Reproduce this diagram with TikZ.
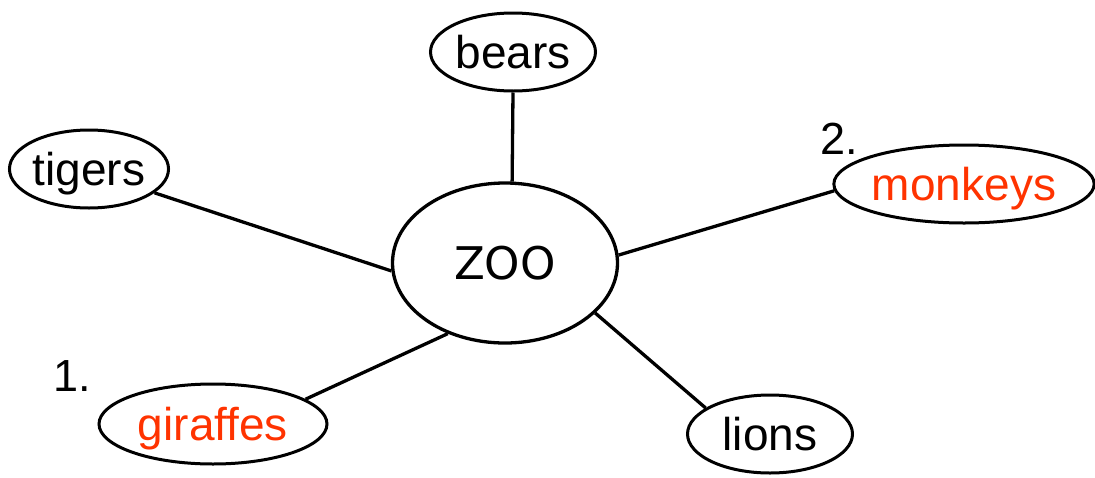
\documentclass[tikz,border=0pt]{standalone}
\usepackage{fontspec}
\setmainfont{Liberation Sans}
\newfontfamily\zoofont{DejaVu Sans}
\usetikzlibrary{shapes.geometric}

\begin{document}
\begin{tikzpicture}[
    x=1pt, y=-1pt,
    bub/.style={
    	draw, ellipse,
    	line width=3pt,
    	inner sep=0pt,
    	text height=33pt, text depth=0pt,
    	minimum width=#1,
    	minimum height=78pt,
    	font=\fontsize{46}{46}\selectfont
    }, pil/.style={
    	line width=3.3pt
    }, num/.style={
    	inner sep=0pt,
    	font=\fontsize{45}{45}\selectfont
    }]
    \definecolor{zoo-red}{RGB}{255, 51, 0}

    \useasboundingbox (0,0) rectangle (1095,477);

    %%% CENTRE
    \node[draw, ellipse, line width=3.3pt, inner sep=0pt, minimum width=225pt, minimum height=160pt,
          font=\zoofont\fontsize{45}{45}\selectfont] (zoo) at (505,263) {ZOO};

    %%% ANIMALS
    \node[bub=165pt] (bears) at (513,52) {bears};
    \node[bub=158pt] (tigers) at (89,169) {tigers};
    \node[bub=252pt, text=zoo-red] (monkeys) at (964,184) {monkeys};
    \node[bub=228pt, minimum height=80pt, text=zoo-red] (giraffes) at (213,424) {giraffes};
    \node[bub=165pt, minimum height=78pt] (lions) at (770,434) {lions};

    \node[num] (one) at (72,376) {1.};
    \node[num] (two) at (839,139) {2.};

    %%% EDGES
    \draw[pil] (bears.south) -- (zoo.85);
    \draw[pil] (tigers.-20) -- (zoo.184);
    \draw[pil] (monkeys.183) -- (zoo.4);
    \draw[pil] (giraffes.15) -- (zoo.-129);
    \draw[pil] (lions.158) -- (zoo.-29);
    %%% EDGES

\end{tikzpicture}
\end{document}
